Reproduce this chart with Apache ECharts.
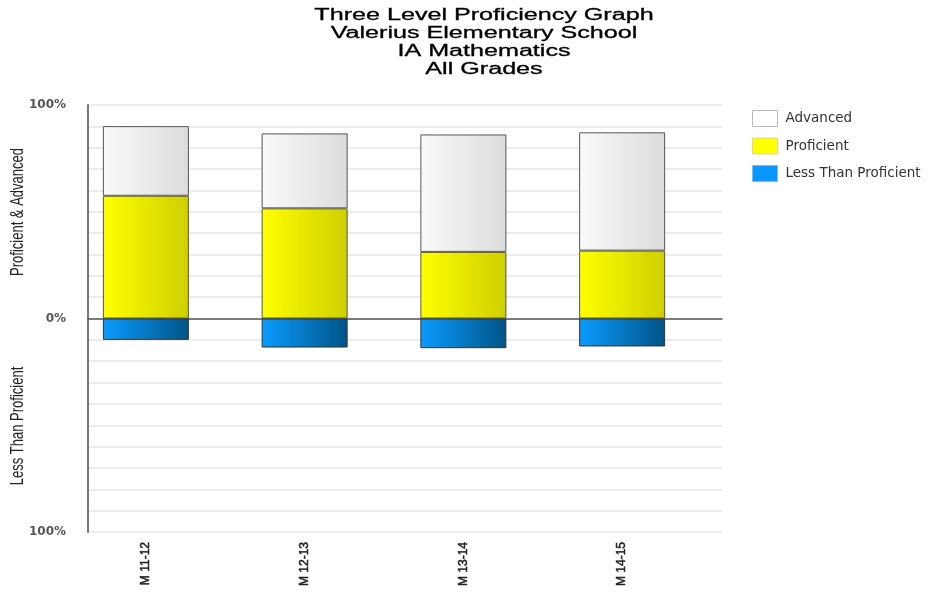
<!DOCTYPE html>
<html>
<head>
<meta charset="utf-8">
<script src="https://cdn.jsdelivr.net/npm/echarts@6/dist/echarts.min.js"></script>
<style>html,body{margin:0;padding:0;background:#fff}#c{width:931px;height:595px}</style>
</head>
<body>
<div id="c"></div>
<script>
const categories = ['M 11-12', 'M 12-13', 'M 13-14', 'M 14-15'];
const proficient = [57.5, 51.6, 31.2, 31.8];
const advanced = [32.6, 35.1, 55.0, 55.4];
const lessThanProficient = [-10.0, -13.6, -13.9, -13.1];
const titleLines = ['Three Level Proficiency Graph', 'Valerius Elementary School', 'IA Mathematics', 'All Grades'];
const yAxisUpperName = 'Proficient & Advanced';
const yAxisLowerName = 'Less Than Proficient';

const chart = echarts.init(document.getElementById('c'));

function grad(a, b) {
  return new echarts.graphic.LinearGradient(0, 0, 1, 0, [{offset: 0, color: a}, {offset: 1, color: b}]);
}

const titleGraphics = titleLines.map((t, i) => ({
  type: 'text', x: 484, y: 15.5 + i * 18, scaleX: 1.57, scaleY: 1,
  style: {text: t, font: '16px "Liberation Sans", Arial, sans-serif', fill: '#000', stroke: '#000', lineWidth: 0.3, textAlign: 'center', textVerticalAlign: 'middle'}
}));

const option = {
  backgroundColor: '#fff',
  animation: false,
  graphic: titleGraphics.concat([
    {type: 'text', x: 18, y: 212, rotation: Math.PI / 2, scaleY: 1.4,
     style: {text: yAxisUpperName, font: '13px "Liberation Sans", Arial, sans-serif', fill: '#222', textAlign: 'center', textVerticalAlign: 'middle'}},
    {type: 'text', x: 18, y: 426, rotation: Math.PI / 2, scaleY: 1.4,
     style: {text: yAxisLowerName, font: '13px "Liberation Sans", Arial, sans-serif', fill: '#222', textAlign: 'center', textVerticalAlign: 'middle'}}
  ]),
  legend: {
    orient: 'vertical', left: 747, top: 105, itemWidth: 25, itemHeight: 16, itemGap: 10.5,
    icon: 'rect', selectedMode: false,
    textStyle: {fontFamily: '"DejaVu Sans", sans-serif', fontSize: 13.5, color: '#333', padding: [0, 0, 0, 3]},
    data: [
      {name: 'Advanced', itemStyle: {color: '#ffffff', borderColor: '#bbbbbb', borderWidth: 1}},
      {name: 'Proficient', itemStyle: {color: '#ffff00', borderColor: '#d8d8a0', borderWidth: 1}},
      {name: 'Less Than Proficient', itemStyle: {color: '#0a96ff', borderColor: '#7fbfe8', borderWidth: 1}}
    ]
  },
  grid: [
    {left: 66.5, right: 229.5, top: 105, bottom: 63},
    {left: 88, right: 209, top: 105, bottom: 63}
  ],
  xAxis: [
    {type: 'category', gridIndex: 0, data: categories,
     axisLine: {show: false}, axisTick: {show: false},
     axisLabel: {rotate: 90, margin: 10, fontFamily: '"Liberation Sans", Arial, sans-serif', fontSize: 12, color: '#222', textBorderColor: '#222', textBorderWidth: 0.5}},
    {type: 'category', gridIndex: 1, data: categories,
     axisLine: {show: true, onZero: true, lineStyle: {color: '#555', width: 1.5}},
     axisTick: {show: false}, axisLabel: {show: false}, splitLine: {show: false}}
  ],
  yAxis: [
    {type: 'value', gridIndex: 0, min: -100, max: 100, interval: 10, show: false, splitLine: {show: false}},
    {type: 'value', gridIndex: 1, min: -100, max: 100, interval: 10,
     axisLine: {show: true, lineStyle: {color: '#777', width: 2}},
     axisTick: {show: false},
     splitLine: {show: true, lineStyle: {color: '#e6e6e6', width: 1.5}},
     axisLabel: {margin: 22, fontFamily: '"DejaVu Sans", sans-serif', fontSize: 12, fontWeight: 'bold', color: '#555',
       formatter: v => (v === 100 || v === -100) ? '100%' : (v === 0 ? '0%' : '')}}
  ],
  series: [
    {name: 'Proficient', type: 'bar', stack: 'a', xAxisIndex: 0, yAxisIndex: 0, barWidth: 86, data: proficient,
     itemStyle: {color: grad('#ffff00', '#cfcf00'), borderColor: '#555', borderWidth: 1}},
    {name: 'Advanced', type: 'bar', stack: 'a', xAxisIndex: 0, yAxisIndex: 0, barWidth: 86, data: advanced,
     itemStyle: {color: grad('#fafafa', '#dcdcdc'), borderColor: '#555', borderWidth: 1}},
    {name: 'Less Than Proficient', type: 'bar', stack: 'a', xAxisIndex: 0, yAxisIndex: 0, barWidth: 86, data: lessThanProficient,
     itemStyle: {color: grad('#0a9cff', '#005487'), borderColor: '#333', borderWidth: 1}}
  ]
};
chart.setOption(option);
</script>
</body>
</html>
